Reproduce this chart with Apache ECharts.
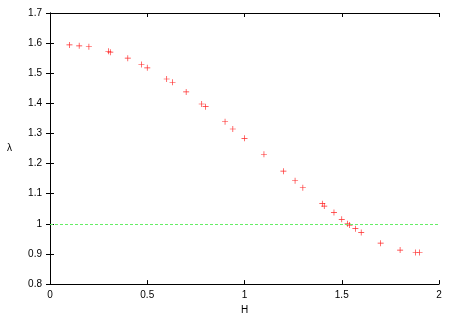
<!DOCTYPE html>
<html>
<head>
<meta charset="utf-8">
<script src="https://cdn.jsdelivr.net/npm/echarts@6/dist/echarts.min.js"></script>
<style>
  html, body { margin: 0; padding: 0; background: #fff; }
  #chart { width: 457px; height: 320px; }
</style>
</head>
<body>
<div id="chart"></div>
<script>
// data
const hValues = [0.10, 0.15, 0.20, 0.30, 0.31, 0.40, 0.47, 0.50, 0.60, 0.63, 0.70,
  0.78, 0.80, 0.90, 0.94, 1.00, 1.10, 1.20, 1.26, 1.30,
  1.40, 1.41, 1.46, 1.50, 1.53, 1.54, 1.57, 1.60, 1.70, 1.80, 1.88, 1.90]
const lambdaValues = [1.594, 1.591, 1.588, 1.573, 1.570, 1.550, 1.529, 1.518, 1.481, 1.470, 1.438,
  1.398, 1.389, 1.339, 1.315, 1.284, 1.231, 1.175, 1.143, 1.120,
  1.067, 1.059, 1.038, 1.015, 1.000, 0.996, 0.984, 0.971, 0.936, 0.913, 0.905, 0.905]
const refLevel = 1
const xTicks = [0, 0.5, 1, 1.5, 2]
const yTicks = [0.8, 0.9, 1, 1.1, 1.2, 1.3, 1.4, 1.5, 1.6, 1.7]

const points = hValues.map((h, i) => [h, lambdaValues[i]])
const plus = 'path://M4,0h1v4h4v1h-4v4h-1v-4h-4v-1h4z'
const font = 'Liberation Sans'

const chart = echarts.init(document.getElementById('chart'))

const axisLine = { show: true, lineStyle: { color: '#000', width: 1 } }
const tick = { show: true, inside: true, length: 4, lineStyle: { color: '#000' } }
const label = { color: '#000', fontSize: 10, fontFamily: font }

chart.setOption({
  animation: false,
  grid: { left: 50, right: 18, top: 13, bottom: 33 },
  xAxis: [{
    type: 'value', min: 0, max: 2, interval: 0.5,
    name: 'H', nameLocation: 'middle', nameGap: 20,
    nameTextStyle: { color: '#000', fontSize: 10, fontFamily: font },
    axisLine, axisTick: tick, splitLine: { show: false },
    axisLabel: { ...label, margin: 6, formatter: v => xTicks.includes(v) ? String(v) : '' }
  }, {
    type: 'value', position: 'top', min: 0, max: 2, interval: 0.5,
    axisLine, axisTick: tick, axisLabel: { show: false }, splitLine: { show: false }
  }],
  yAxis: [{
    type: 'value', min: 0.8, max: 1.7, interval: 0.1,
    name: 'λ', nameLocation: 'middle', nameGap: 38, nameRotate: 0,
    nameTextStyle: { color: '#000', fontSize: 10, fontFamily: font },
    axisLine, axisTick: tick, splitLine: { show: false },
    axisLabel: { ...label, margin: 8, formatter: v => {
      const r = Math.round(v * 10) / 10
      return yTicks.includes(r) ? String(r) : ''
    } }
  }, {
    type: 'value', position: 'right', min: 0.8, max: 1.7, interval: 0.1,
    axisLine, axisTick: tick, axisLabel: { show: false }, splitLine: { show: false }
  }],
  series: [{
    type: 'scatter',
    data: points,
    symbol: plus,
    symbolSize: 6,
    itemStyle: { color: '#ff0000', opacity: 0.85 },
    markLine: {
      silent: true,
      symbol: 'none',
      label: { show: false },
      lineStyle: { color: '#66ee66', type: [3, 2], width: 1 },
      data: [{ yAxis: refLevel }]
    }
  }]
})
</script>
</body>
</html>
